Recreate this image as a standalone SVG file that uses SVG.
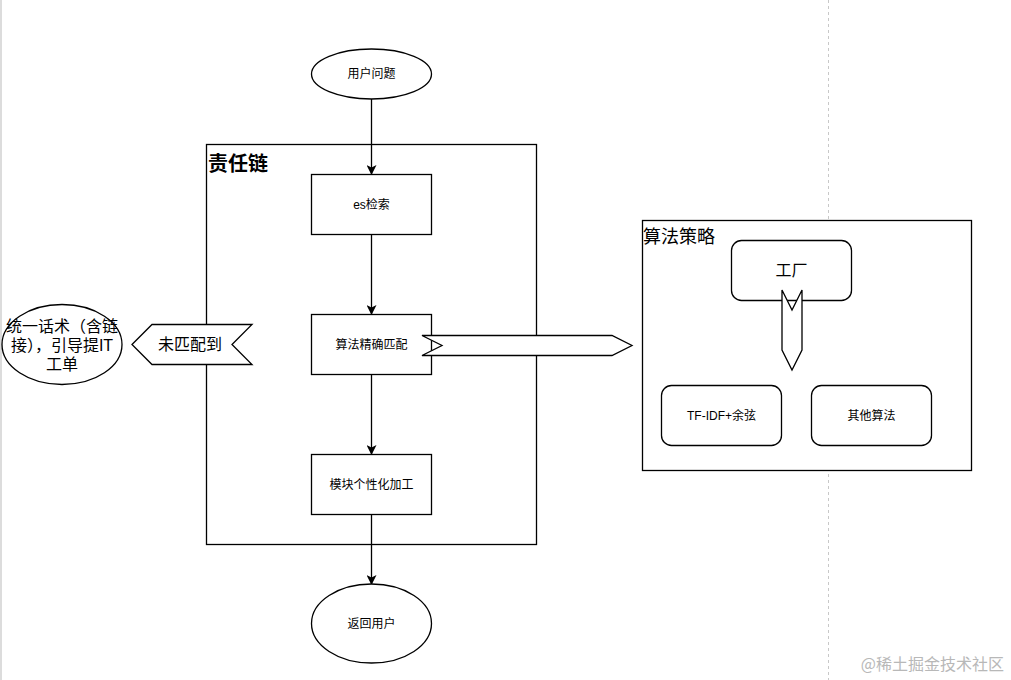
<svg xmlns="http://www.w3.org/2000/svg" width="1011" height="680" viewBox="0 0 1011 680">
<style>
.s{fill:#fff;stroke:#000;stroke-width:1.3}
.t{font-family:"Liberation Sans","Noto Sans CJK SC",sans-serif;font-size:12px;fill:#000;text-anchor:middle;dominant-baseline:central}
.c{stroke:#000;stroke-width:1.3;fill:none}
</style>
<defs>
<marker id="ah" viewBox="0 0 10 10" refX="9" refY="5" markerWidth="10" markerHeight="10" markerUnits="userSpaceOnUse" orient="auto">
<path d="M0,0 L10,5 L0,10 L2.5,5 Z" fill="#000"/>
</marker>
</defs>
<rect x="0" y="0" width="1011" height="680" fill="#fff"/>
<rect x="0" y="0" width="2" height="680" fill="#dcdcdc"/>
<line x1="828.5" y1="0" x2="828.5" y2="680" stroke="#c8c8c8" stroke-width="1" stroke-dasharray="3,3"/>
<g id="chain">
<rect class="s" x="206.5" y="144.5" width="330" height="400"/>
<text x="208" y="171" font-family="Liberation Sans,'Noto Sans CJK SC',sans-serif" font-size="20" font-weight="bold">责任链</text>
</g>
<g id="strategy">
<rect class="s" x="642.5" y="220.5" width="329" height="250"/>
<text x="643" y="243" font-family="Liberation Sans,'Noto Sans CJK SC',sans-serif" font-size="18">算法策略</text>
</g>
<g id="connectors">
<line class="c" x1="371.5" y1="99" x2="371.5" y2="174" marker-end="url(#ah)"/>
<line class="c" x1="371.5" y1="234" x2="371.5" y2="314" marker-end="url(#ah)"/>
<line class="c" x1="371.5" y1="374" x2="371.5" y2="454" marker-end="url(#ah)"/>
<line class="c" x1="371.5" y1="514" x2="371.5" y2="584" marker-end="url(#ah)"/>
</g>
<g id="start">
<ellipse class="s" cx="371.5" cy="74" rx="60" ry="25"/>
<text class="t" x="371.5" y="74">用户问题</text>
</g>
<g id="es">
<rect class="s" x="311.5" y="174.5" width="120" height="60"/>
<text class="t" x="371.5" y="204.5">es检索</text>
</g>
<g id="match">
<rect class="s" x="311.5" y="314.5" width="120" height="60"/>
<text class="t" x="371.5" y="344.5">算法精确匹配</text>
</g>
<g id="personal">
<rect class="s" x="311.5" y="454.5" width="120" height="60"/>
<text class="t" x="371.5" y="484.5">模块个性化加工</text>
</g>
<g id="end">
<ellipse class="s" cx="371.5" cy="623.5" rx="60" ry="39.5"/>
<text class="t" x="371.5" y="623.5">返回用户</text>
</g>
<g id="toStrategy">
<polygon class="s" points="422,335.5 612,335.5 632,345.5 612,355.5 422,355.5 442,345.5"/>
</g>
<g id="nomatch">
<polygon class="s" points="132,344.5 152,324.5 252,324.5 232,344.5 252,364.5 152,364.5"/>
<text class="t" x="190" y="344.5" font-size="16" style="font-size:16px">未匹配到</text>
</g>
<g id="fallback">
<ellipse class="s" cx="62" cy="344.5" rx="60" ry="40"/>
<text class="t" x="62" y="326" style="font-size:16px">统一话术（含链</text>
<text class="t" x="62" y="345" style="font-size:16px">接），引导提IT</text>
<text class="t" x="62" y="364" style="font-size:16px">工单</text>
</g>
<g id="factory">
<rect class="s" x="731.5" y="240.5" width="120" height="60" rx="10"/>
<text class="t" x="791.5" y="270.5" style="font-size:16px">工厂</text>
</g>
<g id="factoryArrow">
<polygon class="s" points="782,290 792,310 802,290 802,350 792,370 782,350"/>
</g>
<g id="tfidf">
<rect class="s" x="661.5" y="385.5" width="120" height="60" rx="10"/>
<text class="t" x="721.5" y="415.5">TF-IDF+余弦</text>
</g>
<g id="other">
<rect class="s" x="811.5" y="385.5" width="120" height="60" rx="10"/>
<text class="t" x="871.5" y="415.5">其他算法</text>
</g>
<text x="1004" y="670" font-family="'Noto Sans CJK SC',sans-serif" font-size="16" fill="#b8b8b8" text-anchor="end">@稀土掘金技术社区</text>
</svg>
